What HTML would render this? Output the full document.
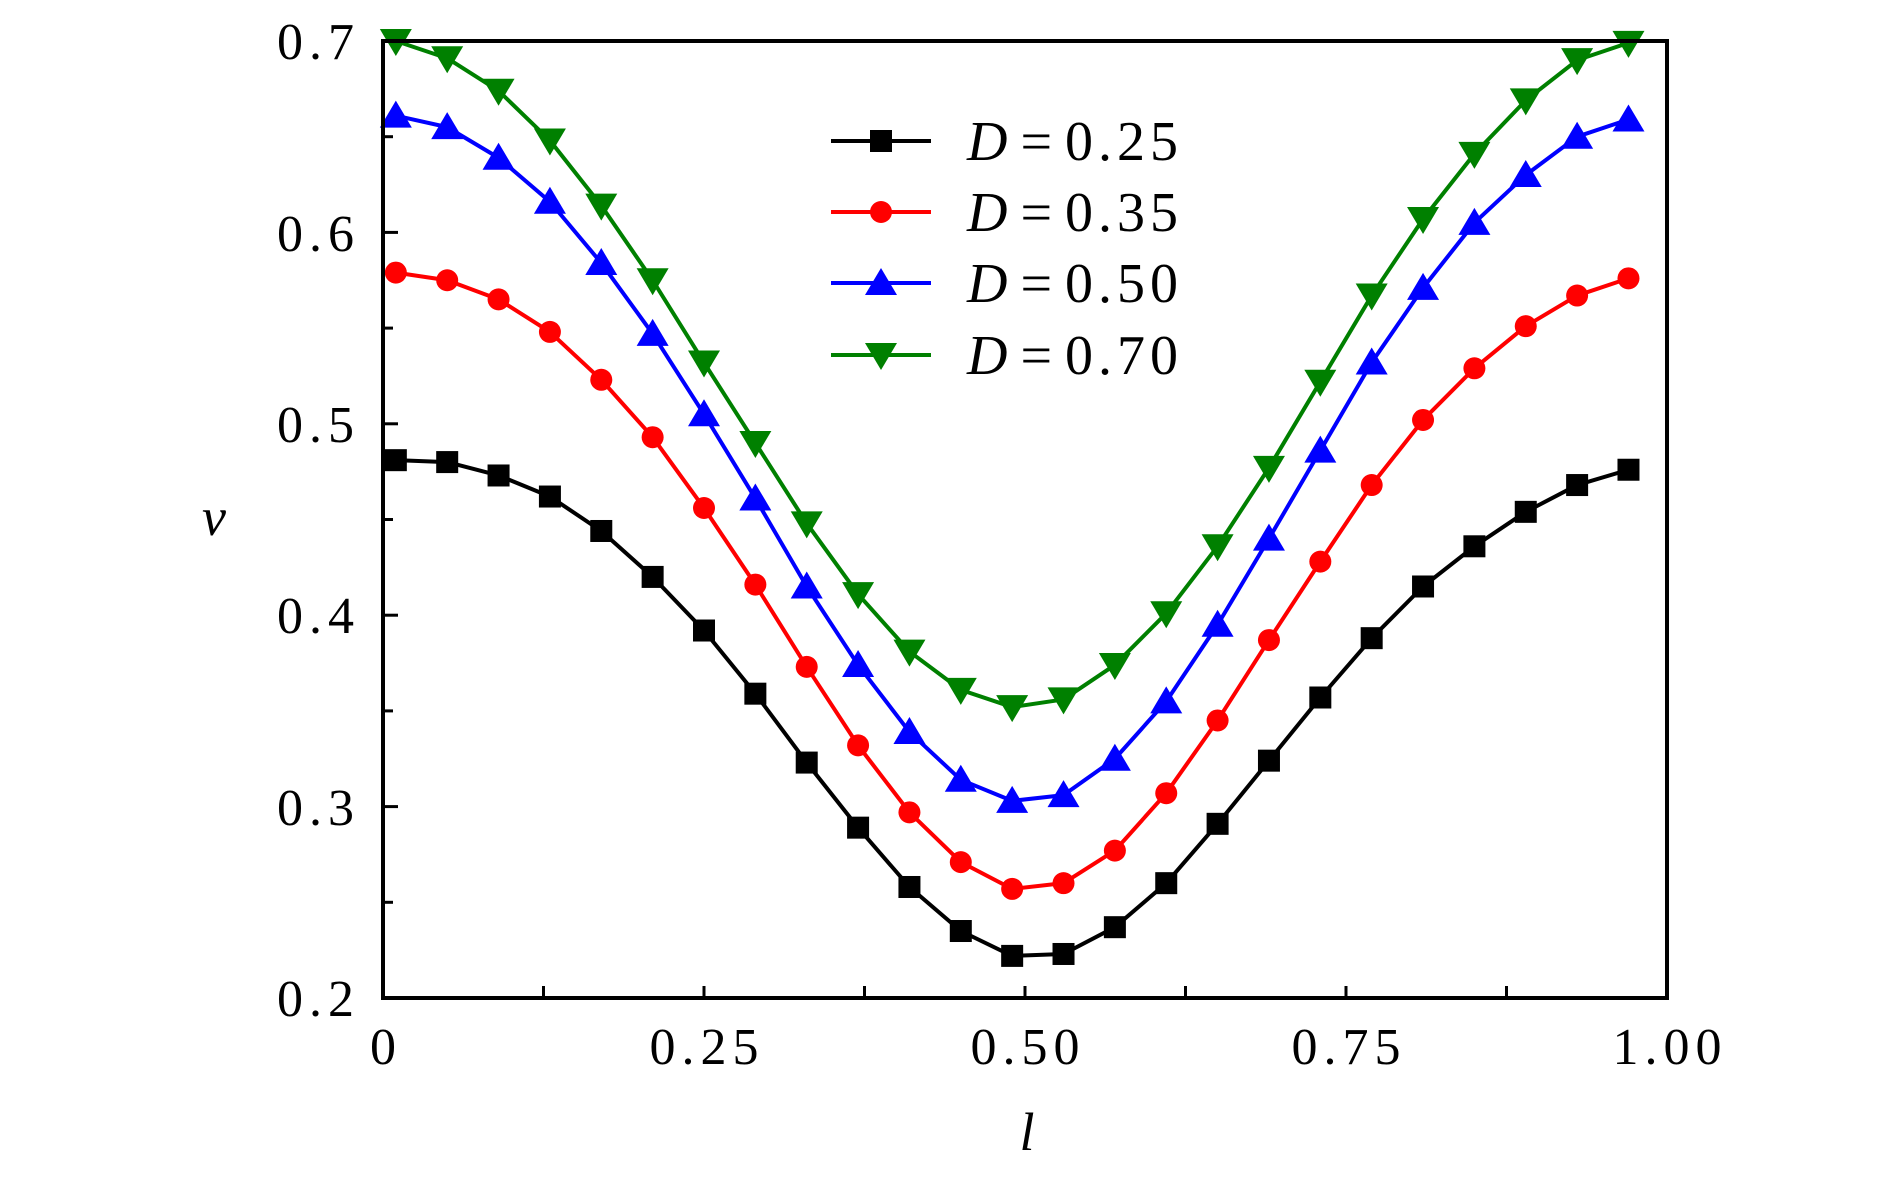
<!DOCTYPE html>
<html><head><meta charset="utf-8"><style>html,body{margin:0;padding:0;background:#fff}svg{display:block}</style></head>
<body>
<svg id="s" width="1890" height="1182" xmlns="http://www.w3.org/2000/svg" font-family="Liberation Serif, serif">
<rect width="1890" height="1182" fill="#fff"/>
<g id="plot"></g>
<rect x="383" y="41" width="1284" height="957" fill="none" stroke="#000" stroke-width="4"/>
<g font-size="52" text-anchor="end" letter-spacing="6">
<text x="360" y="1016">0.2</text><text x="360" y="825">0.3</text><text x="360" y="633">0.4</text>
<text x="360" y="442">0.5</text><text x="360" y="251">0.6</text><text x="360" y="59">0.7</text>
</g>
<g font-size="52" text-anchor="middle" letter-spacing="6">
<text x="386" y="1064">0</text><text x="707" y="1064">0.25</text><text x="1028" y="1064">0.50</text>
<text x="1349" y="1064">0.75</text><text x="1670" y="1064">1.00</text>
</g>
<text x="214" y="535" font-size="54" font-style="italic" text-anchor="middle">v</text>
<text x="1027" y="1150" font-size="54" font-style="italic" text-anchor="middle">l</text>
<g font-size="56" letter-spacing="5">
<text x="967" y="160"><tspan font-style="italic">D</tspan><tspan dx="8">=</tspan><tspan dx="8">0.25</tspan></text>
<text x="967" y="231"><tspan font-style="italic">D</tspan><tspan dx="8">=</tspan><tspan dx="8">0.35</tspan></text>
<text x="967" y="302"><tspan font-style="italic">D</tspan><tspan dx="8">=</tspan><tspan dx="8">0.50</tspan></text>
<text x="967" y="374"><tspan font-style="italic">D</tspan><tspan dx="8">=</tspan><tspan dx="8">0.70</tspan></text>
</g>
</svg>
<script>
const g=document.getElementById('plot');const NS='http://www.w3.org/2000/svg';
function el(t,a){const e=document.createElementNS(NS,t);for(const k in a)e.setAttribute(k,a[k]);g.appendChild(e);return e;}
const X=l=>383+l*1284, Y=v=>998-(v-0.2)*1914;
for(let i=1;i<8;i++){const x=X(i*0.125);el('line',{x1:x,x2:x,y1:998,y2:986,stroke:'#000','stroke-width':3});}
for(let i=1;i<10;i++){const y=Y(0.2+i*0.05);el('line',{x1:383,x2:i%2?393:398,y1:y,y2:y,stroke:'#000','stroke-width':3});}
const data=[
['#000','sq',[0.481,0.480,0.473,0.462,0.444,0.420,0.392,0.359,0.323,0.289,0.258,0.235,0.222,0.223,0.237,0.260,0.291,0.324,0.357,0.388,0.415,0.436,0.454,0.468,0.476]],
['#f00','ci',[0.579,0.575,0.565,0.548,0.523,0.493,0.456,0.416,0.373,0.332,0.297,0.271,0.257,0.260,0.277,0.307,0.345,0.387,0.428,0.468,0.502,0.529,0.551,0.567,0.576]],
['#00f','up',[0.661,0.655,0.639,0.616,0.584,0.547,0.505,0.461,0.415,0.374,0.339,0.314,0.303,0.306,0.325,0.355,0.395,0.440,0.486,0.532,0.571,0.605,0.630,0.650,0.659]],
['#008000','dn',[0.700,0.691,0.674,0.648,0.614,0.575,0.532,0.490,0.448,0.411,0.381,0.361,0.352,0.356,0.374,0.401,0.436,0.477,0.522,0.567,0.607,0.641,0.669,0.690,0.699]]];
function mk(c,t,x,y){
 if(t=='sq')el('rect',{x:x-11,y:y-11,width:22,height:22,fill:c});
 else if(t=='ci')el('circle',{cx:x,cy:y,r:11,fill:c});
 else if(t=='up')el('polygon',{points:`${x-16},${y+12} ${x+16},${y+12} ${x},${y-15}`,fill:c});
 else el('polygon',{points:`${x-16},${y-12} ${x+16},${y-12} ${x},${y+15}`,fill:c});
}
const ly=[141,212,283,355];
data.forEach((d,k)=>{
 const pts=d[2].map((v,i)=>[X(0.01+0.04*i),Y(v)]);
 el('polyline',{points:pts.map(p=>p.join(',')).join(' '),fill:'none',stroke:d[0],'stroke-width':4,'stroke-linejoin':'round'});
 pts.forEach(p=>mk(d[0],d[1],p[0],p[1]));
 el('line',{x1:831,x2:931,y1:ly[k],y2:ly[k],stroke:d[0],'stroke-width':4});
 mk(d[0],d[1],881,ly[k]);
});
</script>
</body></html>
